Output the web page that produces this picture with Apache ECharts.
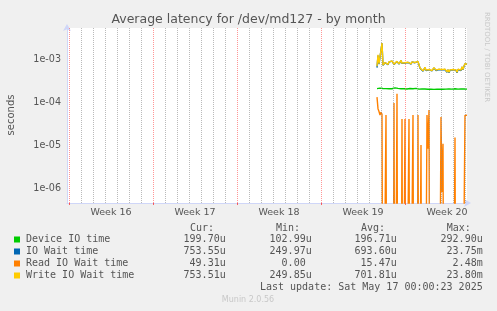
<!DOCTYPE html>
<html><head><meta charset="utf-8">
<script src="https://cdn.jsdelivr.net/npm/echarts@6/dist/echarts.min.js"></script>
<style>html,body{margin:0;padding:0;background:#F0F0F0;}#c{width:497px;height:311px;}</style>
</head><body><div id="c"></div><script>
// ---- data (x in hours since start of Week 16; one point every 2 hours) ----
const weekLabels = ['Week 16', 'Week 17', 'Week 18', 'Week 19', 'Week 20'];
const weekStartHours = [0, 168, 336, 504, 672];
const weekLabelHours = [84, 252, 420, 588, 756];
const yMajorTicks = [1e-6, 1e-5, 1e-4, 1e-3];
const dataStartHour = 616;
const dataStepHours = 2;

const deviceIO = [
 2.05e-4,2.08e-4,2.02e-4,2.10e-4,2.04e-4,1.99e-4,2.06e-4,2.03e-4,2.12e-4,2.05e-4,
 1.98e-4,2.07e-4,2.04e-4,2.01e-4,2.09e-4,2.03e-4,2.00e-4,2.06e-4,2.13e-4,2.04e-4,
 2.02e-4,2.07e-4,1.99e-4,2.05e-4,2.03e-4,2.08e-4,2.01e-4,2.04e-4,2.11e-4,2.03e-4,
 2.00e-4,2.05e-4,2.02e-4,2.06e-4,2.09e-4,2.01e-4,2.04e-4,1.98e-4,2.03e-4,2.07e-4,
 2.02e-4,2.05e-4,1.99e-4,2.04e-4,2.10e-4,2.02e-4,1.97e-4,2.03e-4,2.00e-4,2.05e-4,
 2.01e-4,1.98e-4,2.04e-4,2.06e-4,1.99e-4,2.02e-4,2.00e-4,1.97e-4,2.03e-4,2.01e-4,
 1.98e-4,2.00e-4,2.02e-4,1.99e-4,1.96e-4,2.01e-4,1.98e-4,2.00e-4,1.97e-4,1.99e-4,
 1.96e-4,1.98e-4,2.00e-4,1.97e-4,2.01e-4,1.99e-4,1.96e-4,1.98e-4,2.03e-4,2.00e-4,
 1.97e-4,1.99e-4,2.01e-4,1.98e-4,2.02e-4,2.00e-4,1.98e-4,2.01e-4,1.99e-4,2.00e-4,
 1.997e-4
];
const ioWait = [
 6.3e-4,1.20e-3,7.6e-4,7.3e-4,7.5e-4,2.33e-3,7.1e-4,7.8e-4,8.2e-4,7.6e-4,
 8.0e-4,7.4e-4,8.5e-4,7.9e-4,7.7e-4,8.9e-4,8.1e-4,7.5e-4,8.3e-4,7.8e-4,
 8.7e-4,8.0e-4,7.6e-4,8.2e-4,9.2e-4,7.9e-4,7.7e-4,8.4e-4,8.1e-4,7.8e-4,
 7.9e-4,8.3e-4,7.7e-4,8.0e-4,7.6e-4,8.5e-4,7.9e-4,7.8e-4,8.2e-4,7.5e-4,
 8.1e-4,8.7e-4,8.3e-4,6.1e-4,5.5e-4,5.9e-4,5.2e-4,5.7e-4,6.3e-4,5.4e-4,
 5.8e-4,5.1e-4,5.6e-4,6.0e-4,5.5e-4,5.3e-4,5.8e-4,6.2e-4,5.6e-4,5.4e-4,
 5.9e-4,5.5e-4,5.7e-4,5.2e-4,5.8e-4,5.6e-4,6.0e-4,5.4e-4,5.7e-4,5.3e-4,
 4.9e-4,5.6e-4,4.8e-4,5.5e-4,5.8e-4,5.2e-4,5.6e-4,5.9e-4,5.1e-4,5.5e-4,
 4.8e-4,5.7e-4,5.3e-4,6.1e-4,5.4e-4,6.5e-4,5.6e-4,6.8e-4,7.7e-4,7.4e-4,
 7.5355e-4
];
const readWait = [
 1.30e-4,7.0e-5,6.0e-5,5.0e-5,5.8e-5,5.2e-5,0,0,0,5.0e-5,
 0,0,0,0,0,0,0,9.5e-5,0,0,
 1.56e-4,0,0,0,0,4.0e-5,0,0,4.0e-5,0,
 0,0,4.0e-5,0,0,0,5.0e-5,0,0,0,
 0,5.0e-5,0,0,1.0e-5,0,0,0,0,0,
 5.0e-5,8.2e-6,6.5e-5,0,0,0,0,0,0,0,
 0,0,0,0,4.5e-5,8.1e-7,1.07e-5,0,0,0,
 0,0,0,0,0,0,0,0,1.5e-5,0,
 0,0,0,0,0,0,0,0,4.9e-5,4.9e-5,
 4.931e-5
];
const writeWait = [
 6.8e-4,1.25e-3,7.8e-4,7.4e-4,7.6e-4,2.35e-3,7.2e-4,7.9e-4,8.3e-4,7.7e-4,
 8.1e-4,7.5e-4,8.6e-4,8.0e-4,7.8e-4,9.0e-4,8.2e-4,7.6e-4,8.4e-4,7.9e-4,
 8.8e-4,8.1e-4,7.7e-4,8.3e-4,9.3e-4,8.0e-4,7.8e-4,8.5e-4,8.2e-4,7.9e-4,
 8.0e-4,8.4e-4,7.8e-4,8.1e-4,7.7e-4,8.6e-4,8.0e-4,7.9e-4,8.3e-4,7.6e-4,
 8.2e-4,8.8e-4,8.4e-4,6.2e-4,5.6e-4,6.0e-4,5.3e-4,5.8e-4,6.4e-4,5.5e-4,
 5.9e-4,5.2e-4,5.7e-4,6.1e-4,5.6e-4,5.4e-4,5.9e-4,6.3e-4,5.7e-4,5.5e-4,
 6.0e-4,5.6e-4,5.8e-4,5.3e-4,5.9e-4,5.7e-4,6.1e-4,5.5e-4,5.8e-4,5.4e-4,
 5.0e-4,5.7e-4,4.9e-4,5.6e-4,5.9e-4,5.3e-4,5.7e-4,6.0e-4,5.2e-4,5.6e-4,
 4.9e-4,5.8e-4,5.4e-4,6.2e-4,5.5e-4,6.6e-4,5.7e-4,6.9e-4,7.8e-4,7.5e-4,
 7.5351e-4
];

const seriesNames = ['Device IO time', 'IO Wait time', 'Read IO Wait time', 'Write IO Wait time'];
const seriesColors = ['#00CC00', '#0066B3', '#FF8000', '#FFCC00'];
const curVals = ['199.70u', '753.55u', '49.31u', '753.51u'];
const minVals = ['102.99u', '249.97u', '0.00 ', '249.85u'];
const avgVals = ['196.71u', '693.60u', '15.47u', '701.81u'];
const maxVals = ['292.90u', '23.75m', '2.48m', '23.80m'];
const lastUpdate = 'Last update: Sat May 17 00:00:23 2025';

// ---- build ----
const FLOOR = 1e-12; // zero cannot be shown on a log axis; drawn off the bottom
function toPairs(arr) {
  return arr.map((v, i) => [dataStartHour + i * dataStepHours, v === 0 ? FLOOR : v]);
}
const yMin = 4.48e-7, yMax = 5.26e-3;
const xMin = -4, xMax = 796;

const minorStyle = { color: 'rgba(140,140,140,0.6)', width: 1, type: [1, 1] };
const majorStyle = { color: 'rgba(255,80,80,0.6)', width: 1, type: [1, 1] };
const gridLines = [];
for (let h = 0; h <= xMax; h += 24) {
  if (weekStartHours.indexOf(h) < 0) gridLines.push({ xAxis: h, lineStyle: minorStyle });
}
for (let k = -7; k <= -3; k++) {
  for (let m = 2; m <= 9; m++) {
    const v = m * Math.pow(10, k);
    if (v > yMin && v < yMax) gridLines.push({ yAxis: v, lineStyle: minorStyle });
  }
}
weekStartHours.forEach(h => gridLines.push({ xAxis: h, lineStyle: majorStyle }));
yMajorTicks.forEach(v => gridLines.push({ yAxis: v, lineStyle: majorStyle }));

const dataSets = [deviceIO, ioWait, readWait, writeWait];
const series = [{
  type: 'line', data: [], z: 1, silent: true,
  markLine: { silent: true, symbol: ['none', 'none'], label: { show: false }, animation: false, data: gridLines }
}];
dataSets.forEach((arr, i) => {
  series.push({
    name: seriesNames[i], type: 'line', data: toPairs(arr), z: 2 + i,
    showSymbol: false, symbol: 'none', clip: true,
    lineStyle: { color: seriesColors[i], width: 1.4 }, itemStyle: { color: seriesColors[i] }
  });
});

const TXT = '#555555';
const mono = '10px "DejaVu Sans Mono", monospace';
const gElems = [
  { type: 'text', x: 248.5, y: 20, style: { text: 'Average latency for /dev/md127 - by month', x: 0, y: 0, font: '12.5px "DejaVu Sans"', fill: TXT, textAlign: 'center', textVerticalAlign: 'middle', align: 'center', verticalAlign: 'middle' } },
  { type: 'text', x: 11, y: 115, rotation: Math.PI / 2, style: { text: 'seconds', x: 0, y: 0, font: '10px "DejaVu Sans"', fill: TXT, textAlign: 'center', textVerticalAlign: 'middle', align: 'center', verticalAlign: 'middle' } },
  { type: 'text', x: 487, y: 57, rotation: -Math.PI / 2, style: { text: 'RRDTOOL / TOBI OETIKER', x: 0, y: 0, font: '7px "DejaVu Sans"', fill: '#c8c8c8', textAlign: 'center', textVerticalAlign: 'middle', align: 'center', verticalAlign: 'middle' } },
  { type: 'text', x: 248, y: 300, style: { text: 'Munin 2.0.56', x: 0, y: 0, font: '8px "DejaVu Sans"', fill: '#c8c8c8', textAlign: 'center', textVerticalAlign: 'middle', align: 'center', verticalAlign: 'middle' } }
];
const headers = [['Cur:', 190], ['Min:', 276], ['Avg:', 361], ['Max:', 446.7]];
headers.forEach(h => gElems.push({ type: 'text', x: h[1], y: 228, style: { text: h[0], x: 0, y: 0, font: mono, fill: TXT, textAlign: 'left', textVerticalAlign: 'middle', align: 'left', verticalAlign: 'middle' } }));
const colEnds = [225.7, 311.7, 396.7, 482.7];
const cols = [curVals, minVals, avgVals, maxVals];
seriesNames.forEach((n, i) => {
  const y = 239.5 + i * 12;
  gElems.push({ type: 'rect', shape: { x: 14, y: y - 3, width: 6, height: 6 }, style: { fill: seriesColors[i] } });
  gElems.push({ type: 'text', x: 26, y: y, style: { text: n, x: 0, y: 0, font: mono, fill: TXT, textAlign: 'left', textVerticalAlign: 'middle', align: 'left', verticalAlign: 'middle' } });
  cols.forEach((c, j) => gElems.push({ type: 'text', x: colEnds[j], y: y, style: { text: c[i], x: 0, y: 0, font: mono, fill: TXT, textAlign: 'right', textVerticalAlign: 'middle', align: 'right', verticalAlign: 'middle' } }));
});
gElems.push({ type: 'text', x: 482.7, y: 287.5, style: { text: lastUpdate, x: 0, y: 0, font: mono, fill: TXT, textAlign: 'right', textVerticalAlign: 'middle', align: 'right', verticalAlign: 'middle' } });

const chart = echarts.init(document.getElementById('c'), null, { renderer: 'canvas' });
chart.setOption({
  backgroundColor: '#F0F0F0',
  animation: false,
  grid: { left: 67, right: 30, top: 28, bottom: 108, show: true, backgroundColor: '#FFFFFF', borderWidth: 0 },
  xAxis: {
    type: 'value', min: xMin, max: xMax,
    axisLine: { show: true, onZero: false, lineStyle: { color: '#CFD6F8', width: 1 }, symbol: ['none', 'arrow'], symbolSize: [6, 7], symbolOffset: [0, 4] },
    axisTick: { show: true, customValues: weekStartHours, length: 2, lineStyle: { color: 'rgba(255,0,0,0.6)' } },
    axisLabel: {
      customValues: weekLabelHours, margin: 5, color: TXT, fontSize: 9.5, fontFamily: 'DejaVu Sans',
      formatter: v => { const i = weekLabelHours.indexOf(v); return i >= 0 ? weekLabels[i] : ''; }
    },
    splitLine: { show: false }
  },
  yAxis: {
    type: 'log', logBase: 10, min: yMin, max: yMax,
    axisLine: { show: true, onZero: false, lineStyle: { color: '#CFD6F8', width: 1 }, symbol: ['none', 'arrow'], symbolSize: [6, 7], symbolOffset: [0, 4] },
    axisTick: { show: false },
    axisLabel: {
      margin: 6, color: TXT, fontSize: 9.6, fontFamily: 'DejaVu Sans', showMinLabel: false, showMaxLabel: false,
      formatter: v => {
        const l = Math.log10(v), e = Math.round(l);
        if (Math.abs(l - e) > 0.01) return '';
        return '1e' + (e < 0 ? '-' : '+') + String(Math.abs(e)).padStart(2, '0');
      }
    },
    splitLine: { show: false }
  },
  series: series,
  graphic: { elements: gElems }
});
</script></body></html>
